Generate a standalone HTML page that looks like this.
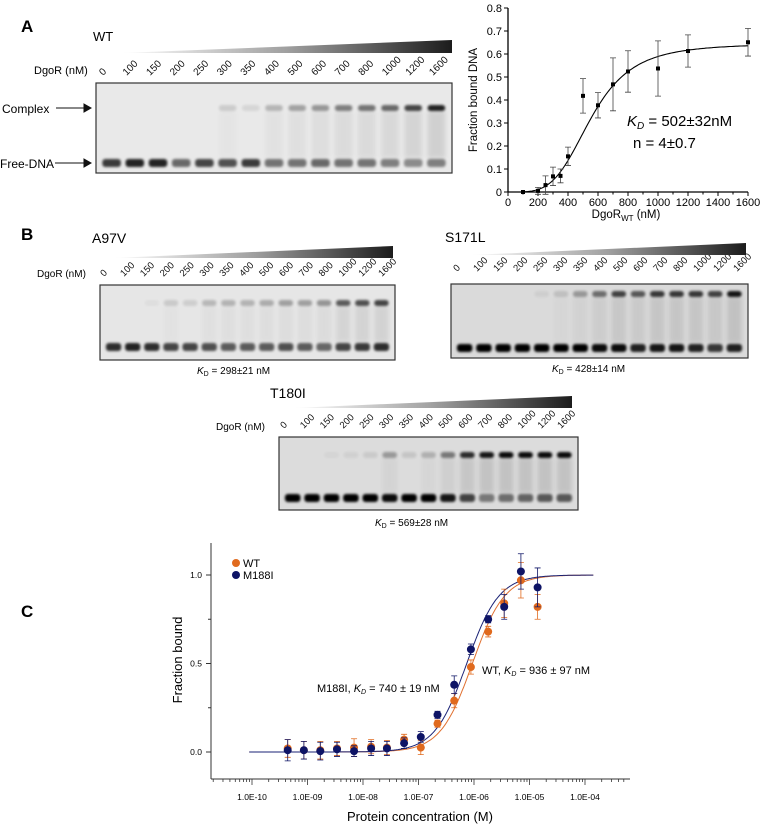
<!DOCTYPE html>
<html><head><meta charset="utf-8">
<style>
html,body{margin:0;padding:0;background:#fff;}
svg{display:block;font-family:"Liberation Sans",Arial,sans-serif;}
</style></head>
<body>
<svg id="fig" width="764" height="826" viewBox="0 0 764 826" xmlns="http://www.w3.org/2000/svg">
<defs>
<linearGradient id="wedgeGrad" x1="0" x2="1" y1="0" y2="0">
<stop offset="0" stop-color="#ffffff"/><stop offset="0.5" stop-color="#a0a0a0"/><stop offset="1" stop-color="#1c1c1c"/>
</linearGradient>
<filter id="blur" x="-20%" y="-100%" width="140%" height="300%"><feGaussianBlur stdDeviation="1.3"/></filter>
<filter id="blur2" x="-20%" y="-20%" width="140%" height="140%"><feGaussianBlur stdDeviation="2.5"/></filter>
</defs>

<text x="21" y="32" font-size="17" font-weight="bold">A</text>
<text x="21" y="240" font-size="17" font-weight="bold">B</text>
<text x="21" y="617" font-size="17" font-weight="bold">C</text>

<g id="gels"></g>
<g id="chartA"></g>
<g id="chartC"></g>
</svg>

<script>
var laneLabels = ["0","100","150","200","250","300","350","400","500","600","700","800","1000","1200","1600"];
var wtFree     = [0.75,0.85,0.85,0.55,0.7,0.65,0.75,0.5,0.5,0.55,0.5,0.5,0.45,0.4,0.45];
var wtComplex  = [0,0,0,0,0,0.12,0.08,0.22,0.3,0.35,0.45,0.5,0.55,0.7,0.85];
var a97vFree   = [0.8,0.85,0.8,0.7,0.7,0.65,0.6,0.6,0.6,0.65,0.6,0.55,0.7,0.75,0.8];
var a97vComplex= [0,0,0.03,0.12,0.1,0.2,0.22,0.22,0.25,0.3,0.3,0.35,0.6,0.65,0.7];
var s171lFree  = [1,1,1,1,1,1,1,0.95,0.95,0.85,0.9,0.9,0.85,0.75,0.85];
var s171lComplex=[0,0,0,0,0.05,0.12,0.3,0.5,0.7,0.6,0.75,0.75,0.75,0.7,0.9];
var t180iFree  = [1,1,1,1,1,0.95,1,1,0.9,0.7,0.45,0.5,0.55,0.6,0.6];
var t180iComplex=[0,0,0.03,0.05,0.08,0.3,0.1,0.2,0.45,0.8,0.9,0.95,0.95,0.95,0.95];

var NS="http://www.w3.org/2000/svg";
function mk(tag, attrs, parent){var e=document.createElementNS(NS,tag);for(var k in attrs)e.setAttribute(k,attrs[k]);if(parent)parent.appendChild(e);return e;}

function drawGel(g, name, box, freeY, cplxY, free, cplx, lbl){
  var grp=mk("g",{},g);
  
  
  var bg=mk("rect",{x:box[0],y:box[1],width:box[2]-box[0],height:box[3]-box[1],fill:lbl.bg},grp);
  
  
  var n=free.length, lw=(box[2]-box[0]-8)/n;
  for(var i=0;i<n;i++){
    var cx=box[0]+4+lw*(i+0.5);
    if(cplx[i]>0.1){
      var sm=mk("rect",{x:cx-lw*0.38,y:cplxY+3,width:lw*0.76,height:freeY-cplxY-8,fill:"#000",opacity:cplx[i]*0.12,filter:"url(#blur2)"},grp);
      
      
    }
    var fb=mk("rect",{x:cx-lw*0.4,y:freeY-4,width:lw*0.8,height:8,rx:3,fill:"#000",opacity:free[i],filter:"url(#blur)"},grp);
    
    
    if(cplx[i]>0){
      var cb=mk("rect",{x:cx-lw*0.38,y:cplxY-3,width:lw*0.76,height:6,rx:3,fill:"#000",opacity:cplx[i],filter:"url(#blur)"},grp);
      
      
    }
  }
  var br=mk("rect",{x:box[0],y:box[1],width:box[2]-box[0],height:box[3]-box[1],fill:"none",stroke:"#333","stroke-width":1.2},grp);
  
  
  for(var j=0;j<laneLabels.length;j++){
    var lx=lbl.x0+(lbl.x1-lbl.x0)*j/(laneLabels.length-1);
    var t=mk("text",{x:lx-3,y:lbl.y+4,"font-size":lbl.fs,transform:"rotate(-45 "+(lx-3)+" "+(lbl.y+4)+")",fill:"#111"},grp);
    t.textContent=laneLabels[j];
    
    
  }
  var w=mk("polygon",{points:lbl.wx0+","+lbl.wy1+" "+lbl.wx1+","+lbl.wy0+" "+lbl.wx1+","+lbl.wy1,fill:"url(#wedgeGrad)"},grp);
  
  
}
var gels=document.getElementById("gels");
drawGel(gels,"gel-wt",[96,83,452,173],163,108,wtFree,wtComplex,{x0:106,x1:436,y:72,fs:10,wx0:120,wx1:452,wy0:40,wy1:53,bg:"#e9e9e9"});
drawGel(gels,"gel-a97v",[100,285,395,360],347,303,a97vFree,a97vComplex,{x0:107,x1:385,y:273,fs:9.5,wx0:113,wx1:393,wy0:246,wy1:258,bg:"#e6e6e6"});
drawGel(gels,"gel-s171l",[451,284,748,358],348,294,s171lFree,s171lComplex,{x0:460,x1:740,y:268,fs:9.5,wx0:470,wx1:746,wy0:243,wy1:255,bg:"#dadada"});
drawGel(gels,"gel-t180i",[279,437,578,510],498,455,t180iFree,t180iComplex,{x0:287,x1:564,y:425,fs:9.5,wx0:293,wx1:572,wy0:396,wy1:408,bg:"#dcdcdc"});

function txt(parent,name,x,y,s,attrs){var t=mk("text",Object.assign({x:x,y:y},attrs||{}),parent);t.textContent=s;return t;}
txt(gels,"wt-title",93,41,"WT",{"font-size":13});
txt(gels,"dgor-label-a",34,74,"DgoR (nM)",{"font-size":11});
txt(gels,"complex-label",2,113,"Complex",{"font-size":12});
txt(gels,"free-dna-label",0,168,"Free-DNA",{"font-size":12});
var ar1=mk("path",{d:"M56 108 H90 M84 104 L91 108 L84 112 Z",stroke:"#111",fill:"#111","stroke-width":1},gels);
 
var ar2=mk("path",{d:"M55 163 H90 M84 159 L91 163 L84 167 Z",stroke:"#111",fill:"#111","stroke-width":1},gels);
 
txt(gels,"a97v-title",92,243,"A97V",{"font-size":14});
txt(gels,"dgor-label-a97v",37,277,"DgoR (nM)",{"font-size":10});
txt(gels,"a97v-kd",197,374,"",{"font-size":10}).innerHTML='<tspan font-style="italic">K</tspan><tspan font-size="7" dy="2">D</tspan><tspan dy="-2"> = 298±21 nM</tspan>';
txt(gels,"s171l-title",445,242,"S171L",{"font-size":14});
txt(gels,"s171l-kd",552,372,"",{"font-size":10}).innerHTML='<tspan font-style="italic">K</tspan><tspan font-size="7" dy="2">D</tspan><tspan dy="-2"> = 428±14 nM</tspan>';
txt(gels,"t180i-title",270,398,"T180I",{"font-size":14});
txt(gels,"dgor-label-t180i",216,430,"DgoR (nM)",{"font-size":10});
txt(gels,"t180i-kd",375,526,"",{"font-size":10}).innerHTML='<tspan font-style="italic">K</tspan><tspan font-size="7" dy="2">D</tspan><tspan dy="-2"> = 569±28 nM</tspan>';
</script>

<script>
var aConc  = [100,200,250,300,350,400,500,600,700,800,1000,1200,1600];
var aFrac  = [0,0.005,0.03,0.068,0.07,0.155,0.418,0.377,0.468,0.524,0.537,0.613,0.651];
var aErr   = [0,0.015,0.04,0.04,0.03,0.04,0.075,0.055,0.115,0.09,0.12,0.07,0.06];
var aXTicks= [0,200,400,600,800,1000,1200,1400,1600];
var aYTicks= [0,0.1,0.2,0.3,0.4,0.5,0.6,0.7,0.8];
var aFit   = {bmax:0.645, k:555, n:4};

(function(){
  var g=document.getElementById("chartA");
  function X(v){return 508+v*(240/1600);}
  function Y(v){return 192-v*(184/0.8);}
  function m(tag,a,name){var e=mk(tag,a,g);return e;}
  m("line",{x1:508,y1:192,x2:748,y2:192,stroke:"#000","stroke-width":1.3},"x-axis");
  m("line",{x1:508,y1:192,x2:508,y2:8,stroke:"#000","stroke-width":1.3},"y-axis");
  aXTicks.forEach(function(v){
    m("line",{x1:X(v),y1:192,x2:X(v),y2:196,stroke:"#000"},"x-tick");
    var t=m("text",{x:X(v),y:206,"font-size":11,"text-anchor":"middle"},"x-tick-label");t.textContent=v;
  });
  for(var v=100;v<1600;v+=200){m("line",{x1:X(v),y1:192,x2:X(v),y2:194.5,stroke:"#000"},"x-minor-tick");}
  aYTicks.forEach(function(v){
    m("line",{x1:504,y1:Y(v),x2:508,y2:Y(v),stroke:"#000"},"y-tick");
    var t=m("text",{x:502,y:Y(v)+4,"font-size":11,"text-anchor":"end"},"y-tick-label");t.textContent=(v===0?"0":v.toFixed(1));
  });
  var t=m("text",{x:0,y:0,"font-size":11.5,"text-anchor":"middle",transform:"translate(477 100) rotate(-90)"},"y-axis-title");t.textContent="Fraction bound DNA";
  var xt=m("text",{x:626,y:218,"font-size":11.5,"text-anchor":"middle"},"x-axis-title");
  xt.innerHTML='DgoR<tspan font-size="8" dy="3">WT</tspan><tspan dy="-3"> (nM)</tspan>';
  var d="";
  for(var c=100;c<=1600;c+=10){var y=aFit.bmax*Math.pow(c,aFit.n)/(Math.pow(aFit.k,aFit.n)+Math.pow(c,aFit.n));d+=(d?"L":"M")+X(c).toFixed(1)+" "+Y(y).toFixed(1);}
  m("path",{d:d,fill:"none",stroke:"#000","stroke-width":1.1},"fit-curve");
  aConc.forEach(function(c,i){
    if(aErr[i]>0){
      m("path",{d:"M"+X(c)+" "+Y(aFrac[i]-aErr[i])+"V"+Y(aFrac[i]+aErr[i])+"M"+(X(c)-3)+" "+Y(aFrac[i]-aErr[i])+"h6M"+(X(c)-3)+" "+Y(aFrac[i]+aErr[i])+"h6",stroke:"#444","stroke-width":0.8,fill:"none"},"error-bar");
    }
    m("rect",{x:X(c)-2,y:Y(aFrac[i])-2,width:4,height:4,fill:"#000"},"data-point");
  });
  var kd=m("text",{x:627,y:126,"font-size":15},"kd-annotation");
  kd.innerHTML='<tspan font-style="italic">K</tspan><tspan font-style="italic" font-size="10" dy="3">D</tspan><tspan dy="-3"> = 502±32nM</tspan>';
  var nn=m("text",{x:633,y:148,"font-size":15},"hill-annotation");nn.textContent="n = 4±0.7";
})();
</script>

<script>
var cConc    = [4.4e-10,8.6e-10,1.7e-9,3.4e-9,6.9e-9,1.4e-8,2.7e-8,5.5e-8,1.1e-7,2.2e-7,4.4e-7,8.8e-7,1.8e-6,3.5e-6,7e-6,1.4e-5];
var wtVals   = [0.02,0.01,0.01,0.02,0.025,0.03,0.025,0.07,0.025,0.16,0.29,0.48,0.68,0.84,0.97,0.82];
var wtErrs   = [0.05,0.05,0.05,0.04,0.05,0.04,0.04,0.03,0.04,0.02,0.04,0.04,0.03,0.08,0.1,0.07];
var m188Vals = [0.01,0.01,0.005,0.015,0.005,0.02,0.02,0.05,0.085,0.21,0.38,0.58,0.75,0.82,1.02,0.93];
var m188Errs = [0.06,0.05,0.05,0.04,0.03,0.04,0.04,0.03,0.03,0.02,0.05,0.03,0.02,0.07,0.1,0.11];
var cXTicks  = [-10,-9,-8,-7,-6,-5,-4];
var cXTickLabels = ["1.0E-10","1.0E-09","1.0E-08","1.0E-07","1.0E-06","1.0E-05","1.0E-04"];
var cYTicks  = [0,0.5,1.0];
var wtKd = 936e-9, m188Kd = 740e-9, hillN = 1.5;

(function(){
  var g=document.getElementById("chartC");
  function X(c){return 252+(Math.log10(c)+10)*55.5;}
  function XL(l){return 252+(l+10)*55.5;}
  function Y(v){return 752-v*177;}
  function m(tag,a,name){var e=mk(tag,a,g);return e;}
  m("line",{x1:211,y1:779,x2:630,y2:779,stroke:"#333","stroke-width":1},"x-axis");
  m("line",{x1:211,y1:543,x2:211,y2:779,stroke:"#333","stroke-width":1},"y-axis");
  for(var d=-11;d<=-4;d++){for(var k=1;k<10;k++){var px=XL(d+Math.log10(k));if(px<212||px>628)continue;
    m("line",{x1:px,y1:779,x2:px,y2:k===1?785:782,stroke:"#333","stroke-width":0.8},k===1?"x-tick":"x-minor-tick");}}
  cXTicks.forEach(function(l,i){var t=m("text",{x:XL(l),y:800,"font-size":8.5,"text-anchor":"middle"},"x-tick-label");t.textContent=cXTickLabels[i];});
  cYTicks.forEach(function(v){
    m("line",{x1:206,y1:Y(v),x2:211,y2:Y(v),stroke:"#333"},"y-tick");
    var t=m("text",{x:202,y:Y(v)+3,"font-size":8.5,"text-anchor":"end"},"y-tick-label");t.textContent=v.toFixed(1);
  });
  [0.25,0.75].forEach(function(v){m("line",{x1:208,y1:Y(v),x2:211,y2:Y(v),stroke:"#333"},"y-minor-tick");});
  var yt=m("text",{x:0,y:0,"font-size":13,"text-anchor":"middle",transform:"translate(182 660) rotate(-90)"},"y-axis-title");yt.textContent="Fraction bound";
  var xt=m("text",{x:420,y:821,"font-size":13,"text-anchor":"middle"},"x-axis-title");xt.textContent="Protein concentration (M)";
  function curve(kd,col,name){var d="";for(var l=-10.05;l<=-3.85;l+=0.02){var c=Math.pow(10,l);var y=Math.pow(c,hillN)/(Math.pow(kd,hillN)+Math.pow(c,hillN));d+=(d?"L":"M")+XL(l).toFixed(1)+" "+Y(y).toFixed(1);}
    m("path",{d:d,fill:"none",stroke:col,"stroke-width":1},name);}
  function pts(vals,errs,col,name){cConc.forEach(function(c,i){var x=X(c);
    m("path",{d:"M"+x+" "+Y(vals[i]-errs[i])+"V"+Y(vals[i]+errs[i])+"M"+(x-3)+" "+Y(vals[i]-errs[i])+"h6M"+(x-3)+" "+Y(vals[i]+errs[i])+"h6",stroke:col,"stroke-width":0.8,fill:"none"},name+"-error-bar");
    m("circle",{cx:x,cy:Y(vals[i]),r:4,fill:col},name+"-point");});}
  curve(wtKd,"#e07030","wt-fit-curve");
  curve(m188Kd,"#1a2275","m188i-fit-curve");
  pts(wtVals,wtErrs,"#e06a1e","wt");
  pts(m188Vals,m188Errs,"#0e1466","m188i");
  m("circle",{cx:236,cy:563,r:4,fill:"#e06a1e"},"legend-wt-marker");
  var l1=m("text",{x:243,y:567,"font-size":11},"legend-wt-label");l1.textContent="WT";
  m("circle",{cx:236,cy:575,r:4,fill:"#0e1466"},"legend-m188i-marker");
  var l2=m("text",{x:243,y:579,"font-size":11},"legend-m188i-label");l2.textContent="M188I";
  var a1=m("text",{x:482,y:674,"font-size":11},"wt-kd-annotation");
  a1.innerHTML='WT, <tspan font-style="italic">K</tspan><tspan font-style="italic" font-size="7" dy="2">D</tspan><tspan dy="-2"> = 936 ± 97 nM</tspan>';
  var a2=m("text",{x:317,y:692,"font-size":11},"m188i-kd-annotation");
  a2.innerHTML='M188I, <tspan font-style="italic">K</tspan><tspan font-style="italic" font-size="7" dy="2">D</tspan><tspan dy="-2"> = 740 ± 19 nM</tspan>';
})();
</script>
</body></html>
